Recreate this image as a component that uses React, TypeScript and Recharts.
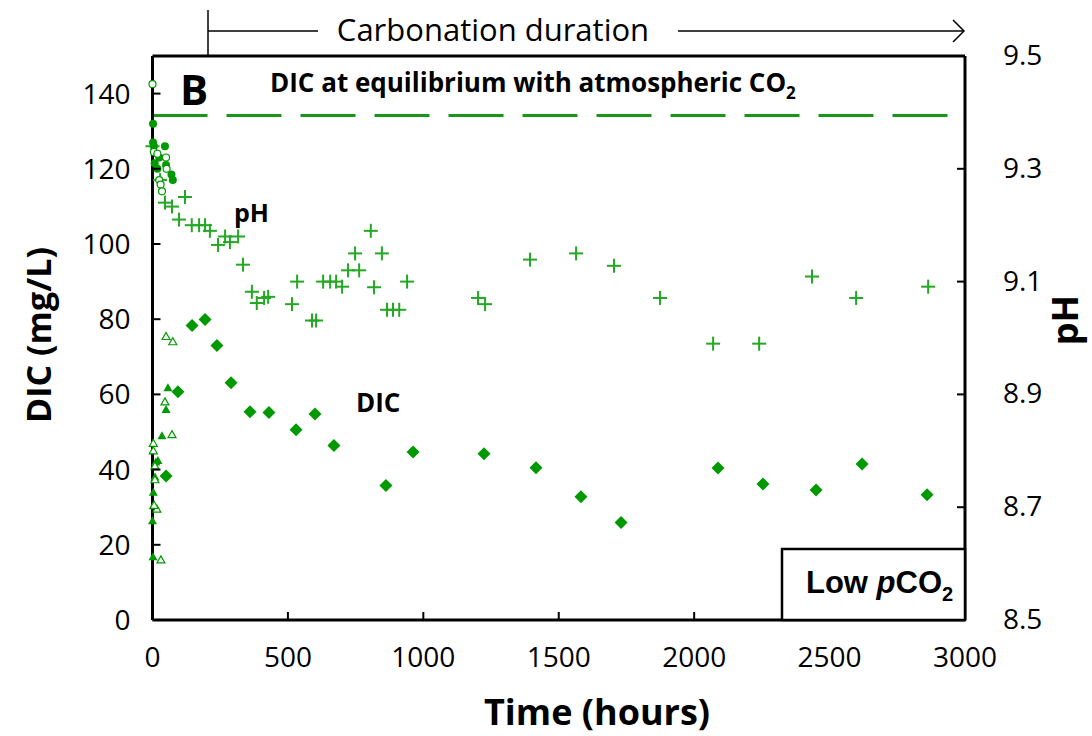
import { ScatterChart, Scatter, XAxis, YAxis, ReferenceLine } from 'recharts';

const W = 1092;
const H = 736;
const GREEN = '#009a00';
const PH_GREEN = '#22a822';
const TICK_FONT = 'Open Sans, sans-serif';

// pH (crosses, right axis)
const phHours = [0, 28, 46, 72, 98, 120, 145, 172, 194, 212, 242, 268, 286, 316, 334, 367, 385, 412, 427, 515, 534, 589, 604, 630, 656, 678, 700, 722, 748, 763, 806, 818, 847, 866, 888, 911, 940, 1202, 1228, 1394, 1564, 1704, 1874, 2070, 2240, 2435, 2598, 2864];
const phValues = [9.34, 9.28, 9.24, 9.233, 9.21, 9.25, 9.2, 9.2, 9.2, 9.19, 9.165, 9.18, 9.17, 9.18, 9.13, 9.082, 9.062, 9.071, 9.073, 9.06, 9.1, 9.031, 9.031, 9.1, 9.1, 9.1, 9.091, 9.12, 9.15, 9.12, 9.19, 9.09, 9.15, 9.05, 9.05, 9.05, 9.1, 9.071, 9.06, 9.139, 9.15, 9.128, 9.071, 8.99, 8.99, 9.109, 9.071, 9.091];

// DIC (diamonds, left axis)
const dicHours = [50, 94, 146, 194, 238, 290, 360, 430, 530, 600, 670, 862, 962, 1224, 1416, 1582, 1730, 2088, 2254, 2450, 2620, 2860];
const dicValues = [38.3, 60.7, 78.3, 79.9, 73, 63.1, 55.4, 55.2, 50.6, 54.8, 46.4, 35.8, 44.7, 44.2, 40.5, 32.8, 25.9, 40.4, 36.2, 34.6, 41.5, 33.3];

// early samples
const filledCircleHours = [2, 2, 5, 46, 25, 8, 50, 70, 75, 18];
const filledCircleValues = [132, 127, 126, 126, 123, 121.5, 121, 118.5, 117, 120];
const openCircleHours = [0, 5, 18, 50, 52, 25, 30, 35];
const openCircleValues = [142.5, 124.5, 124, 123, 120, 117, 115.8, 114];
const filledTriHours = [57, 50, 35, 20, 12, 9, 3, 3, 0, 2];
const filledTriValues = [61.8, 56, 49, 42.4, 42, 38, 34, 30.4, 26.4, 16.8];
const openTriHours = [50, 75, 46, 72, 3, 3, 9, 9, 16, 6, 31];
const openTriValues = [75.4, 74, 58, 49.3, 47, 45, 41, 37.3, 29.5, 30.5, 16];

const equilibriumDIC = 134.2;

const xTicks = [0, 500, 1000, 1500, 2000, 2500, 3000];
const leftTicks = [0, 20, 40, 60, 80, 100, 120, 140];
const rightTicks = [8.5, 8.7, 8.9, 9.1, 9.3, 9.5];

const zip = (xs: number[], ys: number[]) => xs.map((x, i) => ({ x, y: ys[i] }));

const phData = zip(phHours, phValues);
const dicData = zip(dicHours, dicValues);
const filledCircleData = zip(filledCircleHours, filledCircleValues);
const openCircleData = zip(openCircleHours, openCircleValues);
const filledTriData = zip(filledTriHours, filledTriValues);
const openTriData = zip(openTriHours, openTriValues);

const Cross = (p: any) => (
  <g stroke={PH_GREEN} strokeWidth={2}>
    <line x1={p.cx - 7} x2={p.cx + 7} y1={p.cy} y2={p.cy} />
    <line x1={p.cx} x2={p.cx} y1={p.cy - 7} y2={p.cy + 7} />
  </g>
);
const Diamond = (p: any) => (
  <polygon points={`${p.cx},${p.cy - 6.5} ${p.cx + 6.5},${p.cy} ${p.cx},${p.cy + 6.5} ${p.cx - 6.5},${p.cy}`} fill={GREEN} />
);
const FilledCircle = (p: any) => <circle cx={p.cx} cy={p.cy} r={4} fill={GREEN} />;
const OpenCircle = (p: any) => <circle cx={p.cx} cy={p.cy} r={3.5} fill="#fff" stroke={GREEN} strokeWidth={1.2} />;
const FilledTri = (p: any) => (
  <polygon points={`${p.cx},${p.cy - 4.5} ${p.cx + 4.5},${p.cy + 3.5} ${p.cx - 4.5},${p.cy + 3.5}`} fill={GREEN} />
);
const OpenTri = (p: any) => (
  <polygon points={`${p.cx},${p.cy - 4} ${p.cx + 4},${p.cy + 3} ${p.cx - 4},${p.cy + 3}`} fill="#fff" stroke={GREEN} strokeWidth={1.2} />
);

const LeftTick = ({ x, y, payload }: any) => (
  <g>
    <line x1={x + 10} x2={x + 18} y1={y} y2={y} stroke="#000" strokeWidth={2} />
    <text x={x - 12} y={y + 10} textAnchor="end" fontSize={28} fontFamily={TICK_FONT} fill="#000">
      {payload.value}
    </text>
  </g>
);
const RightTick = ({ x, y, payload }: any) => (
  <g>
    <line x1={x - 10} x2={x - 18} y1={y} y2={y} stroke="#000" strokeWidth={2} />
    <text x={x + 28} y={y + 9} textAnchor="start" fontSize={28} fontFamily={TICK_FONT} fill="#000">
      {Number(payload.value).toFixed(1)}
    </text>
  </g>
);
const BottomTick = ({ x, y, payload }: any) => (
  <g>
    <line x1={x} x2={x} y1={y - 10} y2={y - 18} stroke="#000" strokeWidth={2} />
    <text x={x} y={y + 37} textAnchor="middle" fontSize={28} fontFamily={TICK_FONT} fill="#000">
      {payload.value}
    </text>
  </g>
);

export default function App() {
  const axisLine = { stroke: '#000', strokeWidth: 3 };
  return (
    <div style={{ position: 'absolute', left: 0, top: 0, width: W, height: H, background: '#fff' }}>
      <ScatterChart width={W} height={H} margin={{ top: 56, right: 67, bottom: 76, left: 92.5 }}>
        <XAxis
          type="number"
          dataKey="x"
          domain={[0, 3000]}
          ticks={xTicks}
          interval={0}
          height={40}
          tickSize={0}
          tickMargin={10}
          axisLine={axisLine}
          tickLine={false}
          tick={<BottomTick />}
        />
        <YAxis
          yAxisId="left"
          type="number"
          dataKey="y"
          domain={[0, 150]}
          ticks={leftTicks}
          interval={0}
          width={60}
          tickSize={0}
          tickMargin={10}
          axisLine={axisLine}
          tickLine={false}
          tick={<LeftTick />}
        />
        <YAxis
          yAxisId="right"
          orientation="right"
          type="number"
          dataKey="y"
          domain={[8.5, 9.5]}
          ticks={rightTicks}
          interval={0}
          width={60}
          tickSize={0}
          tickMargin={10}
          axisLine={axisLine}
          tickLine={false}
          tick={<RightTick />}
        />
        <ReferenceLine yAxisId="left" y={150} stroke="#000" strokeWidth={3} />
        <ReferenceLine yAxisId="left" y={equilibriumDIC} stroke="#1a961a" strokeWidth={3} strokeDasharray="55 19" />
        <Scatter yAxisId="right" data={phData} shape={Cross} isAnimationActive={false} />
        <Scatter yAxisId="left" data={dicData} shape={Diamond} isAnimationActive={false} />
        <Scatter yAxisId="left" data={filledTriData} shape={FilledTri} isAnimationActive={false} />
        <Scatter yAxisId="left" data={openTriData} shape={OpenTri} isAnimationActive={false} />
        <Scatter yAxisId="left" data={filledCircleData} shape={FilledCircle} isAnimationActive={false} />
        <Scatter yAxisId="left" data={openCircleData} shape={OpenCircle} isAnimationActive={false} />
      </ScatterChart>
      <svg width={W} height={H} style={{ position: 'absolute', left: 0, top: 0, pointerEvents: 'none' }}>
        <g stroke="#000" strokeWidth={1.5} fill="none">
          <line x1={208} x2={208} y1={10} y2={56} />
          <line x1={208} x2={318} y1={31} y2={31} />
          <line x1={678} x2={963} y1={31} y2={31} />
          <polyline points="953,20 964,31 953,42" />
        </g>
        <text x={493} y={41} textAnchor="middle" fontSize={31} fontFamily="Open Sans, sans-serif" fill="#000">
          Carbonation duration
        </text>
        <text x={180} y={105} fontSize={42} fontWeight="bold" fontFamily="Open Sans, sans-serif" fill="#000">B</text>
        <text x={270} y={92} fontSize={26} fontWeight="bold" fontFamily="Open Sans, sans-serif" fill="#000">
          DIC at equilibrium with atmospheric CO<tspan fontSize={17} dy={7}>2</tspan>
        </text>
        <text x={234} y={222} fontSize={25} fontWeight="bold" fontFamily="Open Sans, sans-serif" fill="#000">pH</text>
        <text x={356} y={412} fontSize={26} fontWeight="bold" fontFamily="Open Sans, sans-serif" fill="#000">DIC</text>
        <rect x={782} y={549} width={183} height={71} fill="#fff" stroke="#000" strokeWidth={2.5} />
        <text x={806} y={593} fontSize={31} fontWeight="bold" fontFamily="Liberation Sans, Arial, sans-serif" fill="#000">
          Low <tspan fontStyle="italic">p</tspan>CO<tspan fontSize={20} dy={8}>2</tspan>
        </text>
        <text
          x={38}
          y={335}
          transform="rotate(-90 38 335)"
          textAnchor="middle"
          dominantBaseline="central"
          fontSize={34}
          fontWeight="bold"
          fontFamily="Open Sans, sans-serif"
          fill="#000"
        >
          DIC (mg/L)
        </text>
        <text
          x={1064}
          y={320}
          transform="rotate(-90 1064 320)"
          textAnchor="middle"
          dominantBaseline="central"
          fontSize={36}
          fontWeight="bold"
          fontFamily="Open Sans, sans-serif"
          fill="#000"
        >
          pH
        </text>
        <text x={597} y={725} textAnchor="middle" fontSize={36} fontWeight="bold" fontFamily="Open Sans, sans-serif" fill="#000">
          Time (hours)
        </text>
      </svg>
    </div>
  );
}
